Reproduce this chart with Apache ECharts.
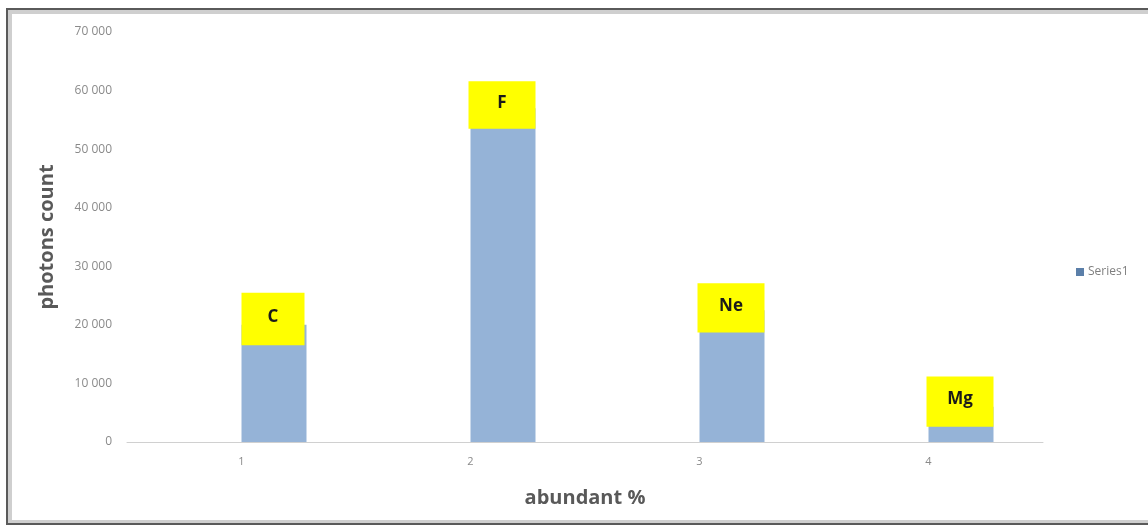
<!DOCTYPE html>
<html>
<head>
<meta charset="utf-8">
<script src="https://cdn.jsdelivr.net/npm/echarts@6/dist/echarts.min.js"></script>
<style>
  html, body { margin: 0; padding: 0; background: #ffffff; }
  #chart { width: 1148px; height: 526px; }
</style>
</head>
<body>
<div id="chart"></div>
<script>
// Categories along the x axis
const categories = ['1', '2', '3', '4'];
// Photon counts per category (Series1)
const series1 = [20000, 57000, 22500, 6000];
// Element callouts: name, lower and upper edge of each yellow box (in counts)
const calloutNames = ['C', 'F', 'Ne', 'Mg'];
const calloutLow = [16500, 53500, 18700, 2600];
const calloutHigh = [25500, 61600, 27100, 11200];
// Y axis range
const yMax = 70000;
const yStep = 10000;

const calloutData = categories.map((c, i) => [i, calloutLow[i], calloutHigh[i], calloutNames[i]]);

const BAR_W = 65;
const chart = echarts.init(document.getElementById('chart'));

chart.setOption({
  backgroundColor: '#ffffff',
  animation: false,
  textStyle: { fontFamily: 'Open Sans, Liberation Sans, sans-serif' },
  grid: { left: 127, right: 105, top: 32, bottom: 84 },
  legend: {
    data: [{ name: 'Series1', itemStyle: { color: '#5b7fa9' } }],
    left: 1071,
    top: 261,
    itemWidth: 8,
    itemHeight: 8,
    itemGap: 4,
    icon: 'rect',
    textStyle: { color: '#7f7f7f', fontSize: 12, padding: [0, 0, 0, -1] }
  },
  xAxis: {
    type: 'category',
    data: categories,
    name: 'abundant %',
    nameLocation: 'middle',
    nameGap: 46,
    nameTextStyle: { color: '#595959', fontSize: 20, fontWeight: 'bold' },
    axisLine: { lineStyle: { color: '#d0d0d0', width: 1 } },
    axisTick: { show: false },
    axisLabel: {
      color: '#8a8a8a', fontSize: 11, margin: 14,
      align: 'center'
    }
  },
  yAxis: {
    type: 'value',
    min: 0,
    max: yMax,
    interval: yStep,
    name: 'photons count',
    nameLocation: 'middle',
    nameGap: 70,
    nameTextStyle: { color: '#595959', fontSize: 20, fontWeight: 'bold' },
    axisLine: { show: false },
    axisTick: { show: false },
    splitLine: { show: false },
    axisLabel: {
      color: '#8a8a8a', fontSize: 12, margin: 15,
      formatter: v => String(v).replace(/\B(?=(\d{3})+(?!\d))/g, ' ')
    }
  },
  series: [
    {
      // empty companion slot that places Series1 to the right of each tick
      name: 'blank',
      type: 'bar',
      data: categories.map(() => '-'),
      barWidth: BAR_W,
      barGap: '0%',
      itemStyle: { color: 'transparent' }
    },
    {
      name: 'Series1',
      type: 'bar',
      data: series1,
      barWidth: BAR_W,
      barGap: '0%',
      itemStyle: { color: '#95b3d7' }
    },
    {
      name: 'callouts',
      type: 'custom',
      data: calloutData,
      encode: { x: 0, y: [1, 2] },
      z: 10,
      renderItem: (params, api) => {
        const idx = api.value(0);
        const lo = api.coord([idx, api.value(1)]);
        const hi = api.coord([idx, api.value(2)]);
        // the first callout box stops just short of its bar's right edge
        const x = idx === 0 ? lo[0] : lo[0] - 2;
        const w = idx === 0 ? 63 : 67;
        const h = lo[1] - hi[1];
        return {
          type: 'group',
          children: [
            {
              type: 'rect',
              shape: { x: x, y: hi[1], width: w, height: h },
              style: { fill: '#ffff00' }
            },
            {
              type: 'text',
              style: {
                x: x + w / 2,
                y: hi[1] + h / 2 - 2,
                text: api.value(3),
                align: 'center',
                verticalAlign: 'middle',
                fill: '#1a1a1a',
                font: 'bold 17px "Open Sans", sans-serif'
              }
            }
          ]
        };
      }
    }
  ],
  graphic: [
    {
      type: 'rect',
      shape: { x: 10, y: 12, width: 1140, height: 510 },
      style: { fill: 'none', stroke: '#cfcfcf', lineWidth: 4 },
      silent: true
    },
    {
      type: 'rect',
      shape: { x: 7, y: 9, width: 1145, height: 515 },
      style: { fill: 'none', stroke: '#5a5a5a', lineWidth: 2 },
      silent: true
    }
  ]
});
</script>
</body>
</html>
